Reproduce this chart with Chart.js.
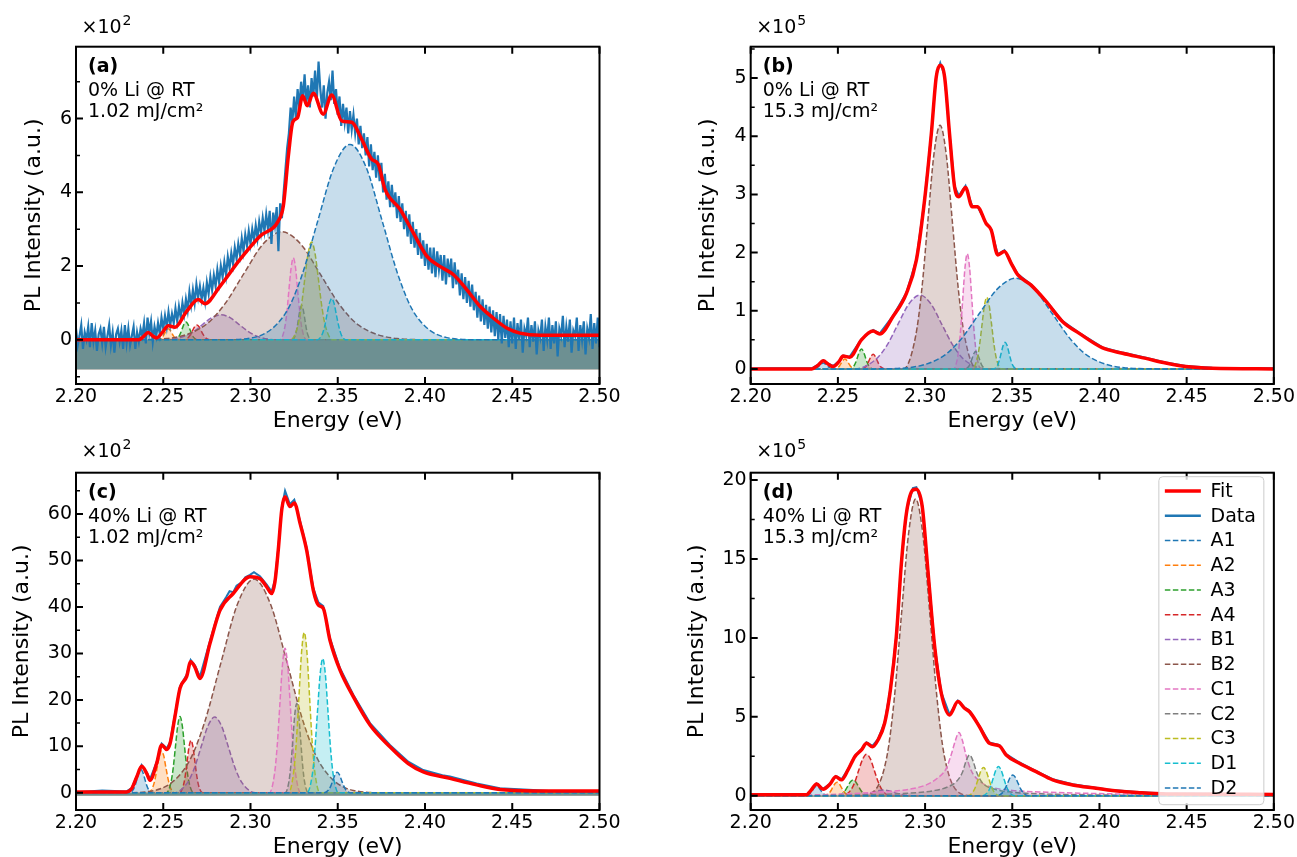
<!DOCTYPE html>
<html>
<head>
<meta charset="utf-8">
<script src="https://cdn.jsdelivr.net/npm/chart.js@4.4.0/dist/chart.umd.min.js"></script>
<style>
  body { margin: 0; background: #fff; width: 1297px; height: 857px; overflow: hidden; position: relative; }
  canvas { position: absolute; }
</style>
</head>
<body>
<canvas id="pa"></canvas>
<canvas id="pb"></canvas>
<canvas id="pc"></canvas>
<canvas id="pd"></canvas>
<script>
// ---- labels / axes ----
const compNames = ['A1', 'A2', 'A3', 'A4', 'B1', 'B2', 'C1', 'C2', 'C3', 'D1', 'D2'];
const compColors = ['#1f77b4', '#ff7f0e', '#2ca02c', '#d62728', '#9467bd', '#8c564b', '#e377c2', '#7f7f7f', '#bcbd22', '#17becf', '#1f77b4'];
const panelTags = ['(a)', '(b)', '(c)', '(d)'];
const panelLine1 = ['0% Li @ RT', '0% Li @ RT', '40% Li @ RT', '40% Li @ RT'];
const panelLine2 = ['1.02 mJ/cm²', '15.3 mJ/cm²', '1.02 mJ/cm²', '15.3 mJ/cm²'];
const panelExp = ['2', '5', '2', '5'];
const yMins = [-1.2, -0.26, -3.7, -0.91];
const yMaxs = [7.95, 5.54, 68.9, 20.47];
const yMajor = [2, 1, 10, 5];
const yMinor = [1, 0.5, 5, 2.5];
const fillBase = [-0.8, -0.02, -0.6, -0.05];

// ---- (a) 0% Li, 1.02 mJ/cm2 (x10^2) ----
const aFit = [[2.2,0],[2.236,0],[2.2385,0.08],[2.2414,0.2],[2.244,0.1],[2.2462,0.05],[2.2495,0.2],[2.2529,0.38],[2.2567,0.34],[2.2634,0.77],[2.2701,1.09],[2.2739,0.98],[2.2825,1.45],[2.294,2.18],[2.3054,2.81],[2.3159,3.22],[2.3188,3.63],[2.3217,4.99],[2.3242,5.9],[2.327,6.03],[2.3299,6.62],[2.3325,6.35],[2.336,6.69],[2.3417,6.12],[2.3465,6.64],[2.3522,5.94],[2.358,5.9],[2.3637,5.44],[2.3694,4.9],[2.3732,4.76],[2.3771,4.08],[2.3857,3.54],[2.3933,2.9],[2.401,2.27],[2.4086,1.99],[2.4162,1.77],[2.4239,1.36],[2.4315,0.91],[2.4391,0.59],[2.4468,0.32],[2.4544,0.18],[2.4659,0.12],[2.5,0.12]];
const aData = [
[2.200,0.3],[2.201,-0.15],[2.202,0.1],[2.203,0.4],[2.204,-0.25],[2.205,0.2],[2.206,0.0],[2.207,0.35],[2.208,-0.2],[2.209,0.45],
[2.210,-0.05],[2.211,0.25],[2.212,-0.3],[2.213,0.15],[2.214,0.3],[2.215,-0.1],[2.216,0.35],[2.217,-0.2],[2.218,0.1],[2.219,0.4],
[2.220,-0.15],[2.221,0.2],[2.222,-0.35],[2.223,0.15],[2.224,0.3],[2.225,-0.05],[2.226,0.25],[2.227,-0.25],[2.228,0.4],[2.229,-0.1],
[2.230,0.3],[2.231,-0.15],[2.232,0.1],[2.233,0.35],[2.234,-0.25],[2.235,0.2],[2.236,-0.05],[2.237,0.3],[2.238,0.1],[2.239,0.45],
[2.240,-0.1],[2.241,0.6],[2.242,0.2],[2.243,0.5],[2.244,-0.05],[2.245,0.35],[2.246,0.1],[2.247,0.45],[2.248,0.15],[2.249,0.6],
[2.250,0.3],[2.251,0.65],[2.252,0.35],[2.253,0.75],[2.254,0.4],[2.255,0.7],[2.256,0.45],[2.257,0.85],[2.258,0.5],[2.259,0.9],
[2.260,0.6],[2.261,1.0],[2.262,0.7],[2.263,1.1],[2.264,0.8],[2.265,1.3],[2.266,0.95],[2.267,1.35],[2.268,1.0],[2.269,1.5],
[2.270,1.15],[2.271,1.45],[2.272,1.1],[2.273,1.4],[2.274,1.05],[2.275,1.55],[2.276,1.25],[2.277,1.7],[2.278,1.35],[2.279,1.75],
[2.280,1.45],[2.281,1.9],[2.282,1.55],[2.283,2.0],[2.284,1.7],[2.285,2.1],[2.286,1.75],[2.287,2.25],[2.288,1.95],[2.289,2.35],
[2.290,2.05],[2.291,2.5],[2.292,2.2],[2.293,2.6],[2.294,2.3],[2.295,2.75],[2.296,2.4],[2.297,2.85],[2.298,2.55],[2.299,2.95],
[2.300,2.6],[2.301,3.0],[2.302,2.7],[2.303,3.1],[2.304,2.75],[2.305,3.2],[2.306,2.9],[2.307,3.3],[2.308,2.95],[2.309,3.4],
[2.310,3.0],[2.311,3.5],[2.312,2.6],[2.313,3.45],[2.314,3.1],[2.315,3.6],[2.316,2.4],[2.317,3.7],[2.318,3.3],[2.319,4.0],
[2.320,4.6],[2.321,5.2],[2.322,5.6],[2.323,6.3],[2.324,5.9],[2.325,6.6],[2.326,6.0],[2.327,6.8],[2.328,6.3],[2.329,7.0],
[2.330,6.5],[2.331,7.2],[2.332,6.4],[2.333,6.9],[2.334,6.3],[2.335,7.1],[2.336,6.6],[2.337,7.3],[2.338,6.5],[2.339,7.55],
[2.340,6.8],[2.341,6.3],[2.342,6.9],[2.343,6.0],[2.344,6.7],[2.345,7.0],[2.346,6.5],[2.347,7.3],[2.348,6.4],[2.349,6.8],
[2.350,6.1],[2.351,6.6],[2.352,5.8],[2.353,6.4],[2.354,5.9],[2.355,6.3],[2.356,5.6],[2.357,6.2],[2.358,5.7],[2.359,6.1],
[2.360,5.6],[2.361,6.0],[2.362,5.3],[2.363,5.8],[2.364,5.2],[2.365,5.6],[2.366,5.0],[2.367,5.5],[2.368,4.7],[2.369,5.3],
[2.370,4.6],[2.371,5.1],[2.372,4.4],[2.373,5.0],[2.374,4.3],[2.375,4.8],[2.376,4.0],[2.377,4.5],[2.378,3.8],[2.379,4.3],
[2.380,3.6],[2.381,4.2],[2.382,3.6],[2.383,4.0],[2.384,3.3],[2.385,3.9],[2.386,3.2],[2.387,3.7],[2.388,3.0],[2.389,3.5],
[2.390,2.8],[2.391,3.4],[2.392,2.6],[2.393,3.2],[2.394,2.5],[2.395,3.0],[2.396,2.3],[2.397,2.9],[2.398,2.2],[2.399,2.7],
[2.400,2.0],[2.401,2.6],[2.402,1.9],[2.403,2.5],[2.404,1.8],[2.405,2.5],[2.406,1.7],[2.407,2.4],[2.408,1.9],[2.409,2.3],
[2.410,1.6],[2.411,2.3],[2.412,1.5],[2.413,2.2],[2.414,1.7],[2.415,2.2],[2.416,1.4],[2.417,2.1],[2.418,1.5],[2.419,1.9],
[2.420,1.2],[2.421,1.8],[2.422,1.1],[2.423,1.7],[2.424,1.0],[2.425,1.6],[2.426,0.9],[2.427,1.5],[2.428,0.8],[2.429,1.3],
[2.430,0.6],[2.431,1.2],[2.432,0.5],[2.433,1.1],[2.434,0.4],[2.435,0.95],[2.436,0.3],[2.437,0.9],[2.438,0.2],[2.439,0.8],
[2.440,0.1],[2.441,0.75],[2.442,0.0],[2.443,0.7],[2.444,-0.1],[2.445,0.65],[2.446,0.05],[2.447,0.55],[2.448,-0.2],[2.449,0.5],
[2.450,-0.1],[2.451,0.6],[2.452,-0.25],[2.453,0.45],[2.454,0.0],[2.455,0.55],[2.456,-0.35],[2.457,0.3],[2.458,0.1],[2.459,0.6],
[2.460,-0.2],[2.461,0.4],[2.462,-0.05],[2.463,0.5],[2.464,-0.4],[2.465,0.25],[2.466,0.05],[2.467,0.55],[2.468,-0.3],[2.469,0.35],
[2.470,0.0],[2.471,0.6],[2.472,-0.25],[2.473,0.4],[2.474,-0.1],[2.475,0.5],[2.476,-0.45],[2.477,0.3],[2.478,0.1],[2.479,0.65],
[2.480,-0.2],[2.481,0.35],[2.482,-0.05],[2.483,0.55],[2.484,-0.35],[2.485,0.25],[2.486,0.1],[2.487,0.6],[2.488,-0.3],[2.489,0.4],
[2.490,0.0],[2.491,0.5],[2.492,-0.4],[2.493,0.3],[2.494,0.05],[2.495,0.7],[2.496,-0.25],[2.497,0.45],[2.498,-0.1],[2.499,0.6],
[2.500,-0.2]];
const aA1 = [[2.2,0],[2.2355,0],[2.2375,0.027],[2.2385,0.065],[2.2395,0.121],[2.2405,0.176],[2.2415,0.2],[2.2425,0.176],[2.2435,0.121],[2.2445,0.065],[2.2455,0.027],[2.2475,0],[2.5,0]];
const aA2 = [[2.2,0],[2.2469,0],[2.2489,0.04],[2.2499,0.098],[2.2509,0.182],[2.2519,0.265],[2.2529,0.3],[2.2539,0.265],[2.2549,0.182],[2.2559,0.098],[2.2569,0.04],[2.2589,0],[2.5,0]];
const aA3 = [[2.2,0],[2.2564,0],[2.2586,0.065],[2.2597,0.156],[2.2608,0.291],[2.2619,0.423],[2.263,0.48],[2.2641,0.423],[2.2652,0.291],[2.2663,0.156],[2.2674,0.065],[2.2696,0],[2.5,0]];
const aA4 = [[2.2,0],[2.2617,0],[2.2642,0.054],[2.2655,0.13],[2.2667,0.243],[2.268,0.353],[2.2692,0.4],[2.2705,0.353],[2.2717,0.243],[2.273,0.13],[2.2742,0.054],[2.2767,0],[2.5,0]];
const aB1 = [[2.2,0],[2.2515,0],[2.262,0.092],[2.2673,0.221],[2.2725,0.413],[2.2778,0.6],[2.283,0.68],[2.2883,0.6],[2.2935,0.413],[2.2988,0.221],[2.304,0.092],[2.3145,0],[2.5,0]];
const aB2 = [[2.2,0],[2.23,0],[2.252,0.033],[2.274,0.396],[2.285,0.952],[2.296,1.778],[2.307,2.584],[2.318,2.93],[2.329,2.584],[2.34,1.778],[2.351,0.952],[2.362,0.396],[2.384,0.033],[2.406,0],[2.5,0]];
const aC1 = [[2.2,0],[2.317,0],[2.3195,0.3],[2.3208,0.722],[2.322,1.348],[2.3233,1.958],[2.3245,2.22],[2.3258,1.958],[2.327,1.348],[2.3283,0.722],[2.3295,0.3],[2.332,0],[2.5,0]];
const aC2 = [[2.2,0],[2.3239,0],[2.3257,0.126],[2.3266,0.302],[2.3275,0.565],[2.3284,0.82],[2.3293,0.93],[2.3302,0.82],[2.3311,0.565],[2.332,0.302],[2.3329,0.126],[2.3347,0],[2.5,0]];
const aC3 = [[2.2,0],[2.323,0],[2.327,0.358],[2.329,0.861],[2.331,1.609],[2.333,2.337],[2.335,2.65],[2.337,2.337],[2.339,1.609],[2.341,0.861],[2.343,0.358],[2.347,0],[2.5,0]];
const aD1 = [[2.2,0],[2.3384,0],[2.3411,0.151],[2.3425,0.364],[2.3438,0.68],[2.3452,0.988],[2.3465,1.12],[2.3479,0.988],[2.3492,0.68],[2.3506,0.364],[2.3519,0.151],[2.3546,0],[2.5,0]];
const aD2 = [[2.2,0],[2.283,0],[2.3015,0.058],[2.32,0.716],[2.3293,1.723],[2.3385,3.217],[2.3478,4.675],[2.357,5.3],[2.3663,4.675],[2.3755,3.217],[2.3848,1.723],[2.394,0.716],[2.4125,0.058],[2.431,0],[2.5,0]];

// ---- (b) 0% Li, 15.3 mJ/cm2 (x10^5) ----
const bFit = [[2.2,0],[2.235,0],[2.2385,0.06],[2.2416,0.14],[2.2445,0.08],[2.2473,0.04],[2.2505,0.12],[2.253,0.22],[2.2568,0.2],[2.2635,0.5],[2.2702,0.65],[2.274,0.6],[2.2816,0.9],[2.2893,1.3],[2.295,1.87],[2.2997,2.9],[2.3036,4.05],[2.3064,5.02],[2.3087,5.22],[2.3112,5.02],[2.314,4.05],[2.3169,3.13],[2.3194,2.96],[2.3232,3.12],[2.327,2.79],[2.3299,2.79],[2.335,2.5],[2.3379,2.39],[2.3417,1.96],[2.3455,2.02],[2.3493,1.82],[2.3531,1.62],[2.3608,1.44],[2.3694,1.16],[2.3789,0.81],[2.3884,0.61],[2.4018,0.36],[2.4132,0.27],[2.4266,0.18],[2.438,0.1],[2.4495,0.04],[2.4647,0.01],[2.5,0]];
const bData = [[2.2,0.01],[2.235,0.01],[2.2385,0.07],[2.2416,0.15],[2.2445,0.09],[2.2473,0.05],[2.2505,0.13],[2.253,0.23],[2.2568,0.21],[2.2635,0.51],[2.2702,0.67],[2.274,0.61],[2.2816,0.91],[2.2893,1.31],[2.295,1.88],[2.2997,2.91],[2.3036,4.07],[2.3064,5.05],[2.3087,5.26],[2.3112,5.04],[2.314,4.06],[2.3169,3.14],[2.3194,2.98],[2.3232,3.15],[2.327,2.8],[2.3299,2.8],[2.335,2.51],[2.3379,2.4],[2.3417,1.97],[2.3455,2.04],[2.3493,1.83],[2.3531,1.63],[2.3608,1.45],[2.3694,1.17],[2.3789,0.82],[2.3884,0.62],[2.4018,0.37],[2.4132,0.28],[2.4266,0.19],[2.438,0.11],[2.4495,0.05],[2.4647,0.02],[2.5,0.01]];
const bA1 = [[2.2,0],[2.2356,0],[2.2376,0.014],[2.2386,0.033],[2.2396,0.061],[2.2406,0.088],[2.2416,0.1],[2.2426,0.088],[2.2436,0.061],[2.2446,0.033],[2.2456,0.014],[2.2476,0],[2.5,0]];
const bA2 = [[2.2,0],[2.248,0],[2.25,0.023],[2.251,0.055],[2.252,0.103],[2.253,0.15],[2.254,0.17],[2.255,0.15],[2.256,0.103],[2.257,0.055],[2.258,0.023],[2.26,0],[2.5,0]];
const bA3 = [[2.2,0],[2.2569,0],[2.2591,0.046],[2.2602,0.11],[2.2613,0.206],[2.2624,0.3],[2.2635,0.34],[2.2646,0.3],[2.2657,0.206],[2.2668,0.11],[2.2679,0.046],[2.2701,0],[2.5,0]];
const bA4 = [[2.2,0],[2.2636,0],[2.2658,0.034],[2.2669,0.081],[2.268,0.152],[2.2691,0.22],[2.2702,0.25],[2.2713,0.22],[2.2724,0.152],[2.2735,0.081],[2.2746,0.034],[2.2768,0],[2.5,0]];
const bB1 = [[2.2,0],[2.2595,0],[2.272,0.171],[2.2783,0.413],[2.2845,0.771],[2.2908,1.12],[2.297,1.27],[2.3033,1.12],[2.3095,0.771],[2.3158,0.413],[2.322,0.171],[2.3345,0],[2.5,0]];
const bB2 = [[2.2,0],[2.2876,0],[2.2946,0.566],[2.2981,1.362],[2.3016,2.543],[2.3051,3.696],[2.3086,4.19],[2.3121,3.696],[2.3156,2.543],[2.3191,1.362],[2.3226,0.566],[2.3296,0],[2.5,0]];
const bC1 = [[2.2,0],[2.3164,0],[2.319,0.267],[2.3203,0.644],[2.3216,1.202],[2.3229,1.746],[2.3242,1.98],[2.3255,1.746],[2.3268,1.202],[2.3281,0.644],[2.3294,0.267],[2.332,0],[2.5,0]];
const bC2 = [[2.2,0],[2.323,0],[2.325,0.041],[2.326,0.098],[2.327,0.182],[2.328,0.265],[2.329,0.3],[2.33,0.265],[2.331,0.182],[2.332,0.098],[2.333,0.041],[2.335,0],[2.5,0]];
const bC3 = [[2.2,0],[2.327,0],[2.3298,0.166],[2.3312,0.4],[2.3326,0.747],[2.334,1.085],[2.3354,1.23],[2.3368,1.085],[2.3382,0.747],[2.3396,0.4],[2.341,0.166],[2.3438,0],[2.5,0]];
const bD1 = [[2.2,0],[2.3393,0],[2.3415,0.062],[2.3426,0.15],[2.3437,0.279],[2.3448,0.406],[2.3459,0.46],[2.347,0.406],[2.3481,0.279],[2.3492,0.15],[2.3503,0.062],[2.3525,0],[2.5,0]];
const bD2 = [[2.2,0],[2.268,0],[2.289,0.017],[2.31,0.211],[2.3205,0.507],[2.331,0.947],[2.3415,1.376],[2.352,1.56],[2.3625,1.376],[2.373,0.947],[2.3835,0.507],[2.394,0.211],[2.415,0.017],[2.436,0],[2.5,0]];

// ---- (c) 40% Li, 1.02 mJ/cm2 (x10^2) ----
const cFit = [[2.2,0.2],[2.229,0.2],[2.2319,0.9],[2.2348,3.4],[2.2376,5.7],[2.2405,4.2],[2.2424,2.7],[2.2462,6.3],[2.2491,10.3],[2.252,9.3],[2.2539,10.6],[2.2567,16.4],[2.2596,22.5],[2.2634,25],[2.2657,28.2],[2.2682,27],[2.271,24.6],[2.2768,32.2],[2.2825,39.3],[2.2901,42.9],[2.2997,46.5],[2.3054,46.1],[2.3093,44.3],[2.3121,42.9],[2.314,45.4],[2.3159,52.2],[2.3179,60.9],[2.3198,63.7],[2.3226,61.6],[2.3251,62.4],[2.3284,58],[2.3322,52.2],[2.336,43.6],[2.3389,40.4],[2.3417,39.7],[2.3455,32.9],[2.3513,26.4],[2.3589,20.7],[2.3685,14.6],[2.3799,9.9],[2.3904,6.3],[2.399,4.5],[2.4143,3.1],[2.4296,1.7],[2.4429,0.7],[2.462,0.4],[2.5,0.4]];
const cData = [[2.2,0.1],[2.215,0.5],[2.229,0.3],[2.2319,1.0],[2.2348,3.6],[2.2376,6.0],[2.2405,4.4],[2.2424,2.9],[2.2462,6.6],[2.2491,10.6],[2.252,9.6],[2.2539,10.9],[2.2567,16.8],[2.2596,22.9],[2.2634,25.4],[2.2657,28.6],[2.2682,27.4],[2.271,25.0],[2.2768,32.7],[2.2825,40.0],[2.286,42.1],[2.288,43.4],[2.2901,43.2],[2.292,44.6],[2.295,45.3],[2.297,46.4],[2.2997,46.9],[2.302,47.5],[2.3054,46.6],[2.3093,44.8],[2.3121,43.3],[2.314,45.8],[2.3159,52.6],[2.3179,61.4],[2.3198,65.0],[2.3226,62.1],[2.3251,63.1],[2.3284,58.5],[2.3322,52.7],[2.336,44.0],[2.3389,41.0],[2.3417,40.2],[2.3455,33.3],[2.3513,26.8],[2.3589,21.1],[2.3685,15.0],[2.3799,10.3],[2.3904,6.7],[2.399,4.9],[2.41,3.8],[2.4143,3.5],[2.4296,2.0],[2.4429,1.0],[2.462,0.6],[2.48,0.2],[2.5,0.3]];
const cA1 = [[2.2,0],[2.2306,0],[2.2328,0.675],[2.2339,1.625],[2.235,3.035],[2.2361,4.41],[2.2372,5],[2.2383,4.41],[2.2394,3.035],[2.2405,1.625],[2.2416,0.675],[2.2438,0],[2.5,0]];
const cA2 = [[2.2,0],[2.2415,0],[2.244,1.215],[2.2453,2.925],[2.2465,5.463],[2.2478,7.938],[2.249,9],[2.2503,7.938],[2.2515,5.463],[2.2528,2.925],[2.254,1.215],[2.2565,0],[2.5,0]];
const cA3 = [[2.2,0],[2.2518,0],[2.2544,2.214],[2.2557,5.33],[2.257,9.955],[2.2583,14.46],[2.2596,16.4],[2.2609,14.46],[2.2622,9.955],[2.2635,5.33],[2.2648,2.214],[2.2674,0],[2.5,0]];
const cA4 = [[2.2,0],[2.2593,0],[2.2615,1.526],[2.2626,3.673],[2.2637,6.859],[2.2648,9.967],[2.2659,11.3],[2.267,9.967],[2.2681,6.859],[2.2692,3.673],[2.2703,1.526],[2.2725,0],[2.5,0]];
const cB1 = [[2.2,0],[2.2561,0],[2.2639,2.2],[2.2678,5.3],[2.2717,9.894],[2.2756,14.38],[2.2795,16.3],[2.2834,14.38],[2.2873,9.894],[2.2912,5.3],[2.2951,2.2],[2.3029,0],[2.5,0]];
const cB2 = [[2.2,0],[2.226,0],[2.245,0.51],[2.264,6.21],[2.2735,14.95],[2.283,27.92],[2.2925,40.57],[2.302,46],[2.3115,40.57],[2.321,27.92],[2.3305,14.95],[2.34,6.21],[2.359,0.51],[2.378,0],[2.5,0]];
const cC1 = [[2.2,0],[2.3108,0],[2.3138,4.2],[2.3153,10.11],[2.3168,18.88],[2.3183,27.43],[2.3198,31.1],[2.3213,27.43],[2.3228,18.88],[2.3243,10.11],[2.3258,4.2],[2.3288,0],[2.5,0]];
const cC2 = [[2.2,0],[2.3199,0],[2.3221,2.59],[2.3232,6.24],[2.3243,11.65],[2.3254,16.93],[2.3265,19.2],[2.3276,16.93],[2.3287,11.65],[2.3298,6.24],[2.3309,2.59],[2.3331,0],[2.5,0]];
const cC3 = [[2.2,0],[2.3218,0],[2.3248,4.66],[2.3263,11.21],[2.3278,20.94],[2.3293,30.43],[2.3308,34.5],[2.3323,30.43],[2.3338,20.94],[2.3353,11.21],[2.3368,4.66],[2.3398,0],[2.5,0]];
const cD1 = [[2.2,0],[2.3324,0],[2.3354,3.9],[2.3369,9.39],[2.3384,17.54],[2.3399,25.49],[2.3414,28.9],[2.3429,25.49],[2.3444,17.54],[2.3459,9.39],[2.3474,3.9],[2.3504,0],[2.5,0]];
const cD2 = [[2.2,0],[2.3422,0],[2.3447,0.594],[2.346,1.43],[2.3472,2.671],[2.3485,3.881],[2.3497,4.4],[2.351,3.881],[2.3522,2.671],[2.3535,1.43],[2.3547,0.594],[2.3572,0],[2.5,0]];

// ---- (d) 40% Li, 15.3 mJ/cm2 (x10^5) ----
const dFit = [[2.2,0.05],[2.232,0.05],[2.2343,0.3],[2.2378,0.74],[2.2415,0.4],[2.2454,0.72],[2.2488,1.2],[2.2521,1.0],[2.2558,1.63],[2.2597,2.47],[2.2635,2.9],[2.2664,3.32],[2.2698,3.1],[2.273,3.53],[2.2768,4.59],[2.2801,6.7],[2.2835,10.08],[2.2864,14.7],[2.2893,17.9],[2.293,19.37],[2.295,19.42],[2.2984,18.3],[2.3016,14.3],[2.3055,9.44],[2.3093,6.49],[2.314,5.11],[2.3188,5.96],[2.3226,5.54],[2.3255,5.32],[2.3312,4.37],[2.3369,3.32],[2.3427,3.15],[2.3465,2.58],[2.3541,2.05],[2.3637,1.52],[2.3732,1.0],[2.3846,0.68],[2.398,0.47],[2.4075,0.32],[2.4228,0.19],[2.438,0.11],[2.5,0.08]];
const dData = [[2.2,0.06],[2.232,0.06],[2.2343,0.33],[2.2378,0.78],[2.2415,0.43],[2.2454,0.75],[2.2488,1.24],[2.2521,1.04],[2.2558,1.67],[2.2597,2.52],[2.2635,2.95],[2.2664,3.38],[2.2698,3.15],[2.273,3.58],[2.2768,4.64],[2.2801,6.76],[2.2835,10.15],[2.2864,14.8],[2.2893,18.0],[2.293,19.5],[2.295,19.55],[2.2984,18.4],[2.3016,14.4],[2.3055,9.5],[2.3093,6.55],[2.314,5.16],[2.3188,6.02],[2.3226,5.6],[2.3255,5.38],[2.3312,4.42],[2.3369,3.37],[2.3427,3.2],[2.3465,2.63],[2.3541,2.1],[2.3637,1.56],[2.3732,1.04],[2.3846,0.72],[2.398,0.5],[2.4075,0.35],[2.4228,0.22],[2.438,0.13],[2.5,0.09]];
const dA1 = [[2.2,0],[2.2312,0],[2.2334,0.081],[2.2345,0.195],[2.2356,0.364],[2.2367,0.529],[2.2378,0.6],[2.2389,0.529],[2.24,0.364],[2.2411,0.195],[2.2422,0.081],[2.2444,0],[2.5,0]];
const dA2 = [[2.2,0],[2.242,0],[2.2445,0.115],[2.2458,0.276],[2.247,0.516],[2.2483,0.75],[2.2495,0.85],[2.2508,0.75],[2.252,0.516],[2.2533,0.276],[2.2545,0.115],[2.257,0],[2.5,0]];
const dA3 = [[2.2,0],[2.2497,0],[2.2527,0.135],[2.2542,0.325],[2.2557,0.607],[2.2572,0.882],[2.2587,1],[2.2602,0.882],[2.2617,0.607],[2.2632,0.325],[2.2647,0.135],[2.2677,0],[2.5,0]];
const dA4 = [[2.2,0],[2.2529,0],[2.2574,0.354],[2.2597,0.852],[2.2619,1.59],[2.2642,2.311],[2.2664,2.62],[2.2687,2.311],[2.2709,1.59],[2.2732,0.852],[2.2754,0.354],[2.2799,0],[2.5,0]];
const dB1 = [[2.2,0],[2.258,0],[2.264,0.047],[2.267,0.114],[2.27,0.212],[2.273,0.309],[2.276,0.35],[2.279,0.309],[2.282,0.212],[2.285,0.114],[2.288,0.047],[2.294,0],[2.5,0]];
const dB2 = [[2.2,0],[2.2618,0],[2.27,0.21],[2.2782,2.54],[2.2823,6.11],[2.2864,11.41],[2.2905,16.58],[2.2946,18.8],[2.2987,16.58],[2.3028,11.41],[2.3069,6.11],[2.311,2.54],[2.3192,0.21],[2.3274,0],[2.5,0]];
const dC1 = [[2.2,0],[2.24,0.06],[2.27,0.2],[2.28,0.27],[2.293,0.45],[2.301,0.7],[2.307,1.1],[2.312,1.7],[2.315,2.6],[2.3174,3.5],[2.3194,4.0],[2.3214,3.5],[2.3234,2.6],[2.3264,1.6],[2.3314,0.9],[2.3394,0.5],[2.35,0.33],[2.37,0.22],[2.4,0.13],[2.44,0.07],[2.5,0.03]];
const dC2 = [[2.2,0],[2.26,0.04],[2.29,0.15],[2.305,0.32],[2.313,0.55],[2.318,0.9],[2.3215,1.5],[2.3235,2.2],[2.3255,2.58],[2.3275,2.2],[2.3295,1.5],[2.333,0.8],[2.34,0.4],[2.35,0.22],[2.37,0.1],[2.4,0.04],[2.5,0]];
const dC3 = [[2.2,0],[2.3245,0],[2.3275,0.24],[2.329,0.579],[2.3305,1.08],[2.332,1.57],[2.3335,1.78],[2.335,1.57],[2.3365,1.08],[2.338,0.579],[2.3395,0.24],[2.3425,0],[2.5,0]];
const dD1 = [[2.2,0],[2.3331,0],[2.3361,0.248],[2.3376,0.598],[2.3391,1.117],[2.3406,1.623],[2.3421,1.84],[2.3436,1.623],[2.3451,1.117],[2.3466,0.598],[2.3481,0.248],[2.3511,0],[2.5,0]];
const dD2 = [[2.2,0],[2.3413,0],[2.3443,0.177],[2.3458,0.426],[2.3473,0.795],[2.3488,1.155],[2.3503,1.31],[2.3518,1.155],[2.3533,0.795],[2.3548,0.426],[2.3563,0.177],[2.3593,0],[2.5,0]];

// ---- page layout (pixels) ----
const FONT = '"DejaVu Sans"';
const layout = [
  { id: 'pa', left: 0,   top: 0,   w: 640, h: 434, padL: 20.8, padT: 46.7, padR: 40.5, yW: 55.2, expDy: 13.4, dataW: 2.2 },
  { id: 'pb', left: 680, top: 0,   w: 617, h: 434, padL: 14.8, padT: 46.7, padR: 22,   yW: 55.9, expDy: 13.4, dataW: 2 },
  { id: 'pc', left: 0,   top: 430, w: 640, h: 430, padL: 8.8,  padT: 42.7, padR: 40.5, yW: 67.2, expDy: 15.7, dataW: 2 },
  { id: 'pd', left: 680, top: 430, w: 617, h: 430, padL: 3.8,  padT: 42.7, padR: 22,   yW: 66.9, expDy: 15.7, dataW: 2 },
];

function rgba(hex, a) {
  const n = parseInt(hex.slice(1), 16);
  return `rgba(${(n >> 16) & 255}, ${(n >> 8) & 255}, ${n & 255}, ${a})`;
}

function toXY(pts) {
  return pts.map(p => ({ x: p[0], y: p[1] }));
}

function drawLegend(chart, ctx, a) {
  const bx = a.right - 115, by = a.top + 4, bw = 105, bh = 328;
  ctx.fillStyle = 'rgba(255,255,255,0.8)';
  ctx.strokeStyle = '#cccccc';
  ctx.lineWidth = 1;
  ctx.beginPath();
  ctx.roundRect(bx, by, bw, bh, 4);
  ctx.fill();
  ctx.stroke();
  chart.data.datasets.forEach((ds, k) => {
    const cy = by + 14.3 + k * 24.75;
    ctx.beginPath();
    ctx.strokeStyle = ds.borderColor;
    ctx.lineWidth = k === 1 ? 2.5 : ds.borderWidth;
    ctx.setLineDash(ds.borderDash || []);
    ctx.moveTo(bx + 6, cy);
    ctx.lineTo(bx + 42, cy);
    ctx.stroke();
    ctx.setLineDash([]);
    ctx.fillStyle = '#000';
    ctx.font = '19px ' + FONT;
    ctx.textBaseline = 'middle';
    ctx.textAlign = 'left';
    ctx.fillText(ds.label, bx + 51.7, cy + 1);
  });
}

// frame, inward ticks, exponent and panel notes
const framePlugin = {
  id: 'frame',
  afterDraw(chart, args, opts) {
    const { ctx, chartArea: a, scales: { x, y } } = chart;
    const i = opts.idx;
    ctx.save();
    ctx.strokeStyle = '#000';
    ctx.lineWidth = 2;
    ctx.strokeRect(a.left, a.top, a.right - a.left, a.bottom - a.top);
    ctx.beginPath();
    x.ticks.forEach(t => {
      const px = x.getPixelForValue(t.value);
      ctx.moveTo(px, a.bottom); ctx.lineTo(px, a.bottom - 7);
      ctx.moveTo(px, a.top); ctx.lineTo(px, a.top + 7);
    });
    y.ticks.forEach(t => {
      const py = y.getPixelForValue(t.value);
      ctx.moveTo(a.left, py); ctx.lineTo(a.left + 7, py);
    });
    ctx.stroke();
    ctx.beginPath();
    ctx.lineWidth = 1.5;
    const m = yMinor[i], M = yMajor[i];
    for (let v = Math.ceil(y.min / m) * m; v <= y.max; v += m) {
      if (Math.abs(v / M - Math.round(v / M)) < 1e-6) continue;
      const py = y.getPixelForValue(v);
      ctx.moveTo(a.left, py); ctx.lineTo(a.left + 4, py);
    }
    ctx.stroke();

    ctx.fillStyle = '#000';
    ctx.textAlign = 'left';
    ctx.textBaseline = 'alphabetic';
    ctx.font = '19px ' + FONT;
    const ex = a.left + 5.5, ey = a.top - layout[i].expDy;
    ctx.fillText('×10', ex, ey);
    const w = ctx.measureText('×10').width;
    ctx.font = '14px ' + FONT;
    ctx.fillText(panelExp[i], ex + w + 1, ey - 8);
    ctx.font = 'bold 19px ' + FONT;
    ctx.fillText(panelTags[i], a.left + 12, a.top + 25);
    ctx.font = '19px ' + FONT;
    ctx.fillText(panelLine1[i], a.left + 12, a.top + 49);
    ctx.fillText(panelLine2[i], a.left + 12, a.top + 70.5);
    if (opts.legend) drawLegend(chart, ctx, a);
    ctx.restore();
  }
};

function makeChart(i, fit, data, comps, legend) {
  const L = layout[i];
  const cv = document.getElementById(L.id);
  cv.width = L.w; cv.height = L.h;
  cv.style.left = L.left + 'px'; cv.style.top = L.top + 'px';

  const datasets = [
    { label: 'Fit', data: toXY(fit), borderColor: '#ff0000', borderWidth: 3.5, pointRadius: 0,
      fill: false, cubicInterpolationMode: 'monotone', order: 0 },
    { label: 'Data', data: toXY(data), borderColor: '#1f77b4', borderWidth: L.dataW, pointRadius: 0,
      fill: false, tension: 0, order: 1 },
  ];
  comps.forEach((c, k) => datasets.push({
    label: compNames[k], data: toXY(c), borderColor: compColors[k],
    backgroundColor: rgba(compColors[k], 0.25), borderWidth: 1.5, borderDash: [5.5, 2.5],
    pointRadius: 0, fill: { value: fillBase[i] }, cubicInterpolationMode: 'monotone', order: 13 - k
  }));

  new Chart(cv, {
    type: 'line',
    data: { datasets },
    options: {
      responsive: false,
      animation: false,
      devicePixelRatio: 1,
      layout: { padding: { left: L.padL, top: L.padT, right: L.padR, bottom: 0 } },
      plugins: { legend: { display: false }, tooltip: { enabled: false }, frame: { idx: i, legend } },
      scales: {
        x: {
          type: 'linear', min: 2.2, max: 2.5,
          afterFit: s => { s.height = 50; },
          grid: { display: false, drawTicks: false }, border: { display: false },
          ticks: { stepSize: 0.05, autoSkip: false, maxRotation: 0, padding: 2, color: '#000',
                   font: { family: FONT, size: 19 }, callback: v => v.toFixed(2) },
          title: { display: true, text: 'Energy (eV)', color: '#000', font: { family: FONT, size: 22 }, padding: 0 }
        },
        y: {
          type: 'linear', min: yMins[i], max: yMaxs[i],
          afterFit: s => { s.width = L.yW; },
          grid: { display: false, drawTicks: false }, border: { display: false },
          ticks: { stepSize: yMajor[i], includeBounds: false, padding: 4, color: '#000',
                   font: { family: FONT, size: 19 }, callback: v => String(Math.round(v)) },
          title: { display: true, text: 'PL Intensity (a.u.)', color: '#000', font: { family: FONT, size: 22 }, padding: 0 }
        }
      }
    },
    plugins: [framePlugin]
  });
}

makeChart(0, aFit, aData, [aA1, aA2, aA3, aA4, aB1, aB2, aC1, aC2, aC3, aD1, aD2], false);
makeChart(1, bFit, bData, [bA1, bA2, bA3, bA4, bB1, bB2, bC1, bC2, bC3, bD1, bD2], false);
makeChart(2, cFit, cData, [cA1, cA2, cA3, cA4, cB1, cB2, cC1, cC2, cC3, cD1, cD2], false);
makeChart(3, dFit, dData, [dA1, dA2, dA3, dA4, dB1, dB2, dC1, dC2, dC3, dD1, dD2], true);
</script>
</body>
</html>
